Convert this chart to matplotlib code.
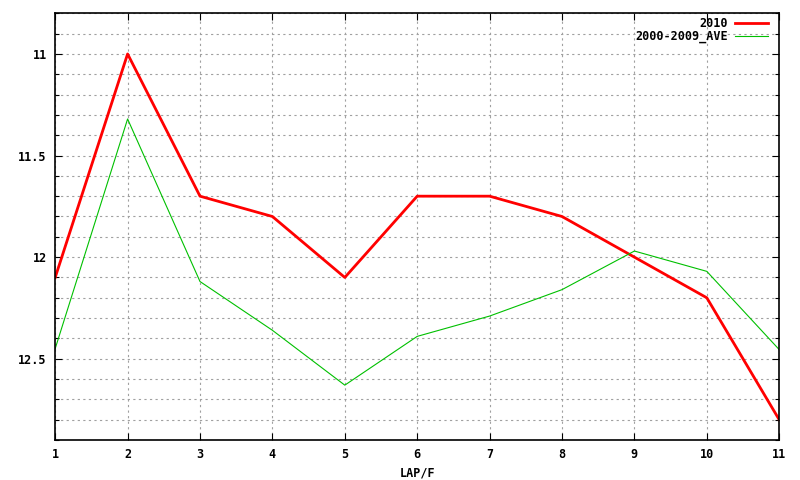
import matplotlib
matplotlib.use("Agg")
import matplotlib.pyplot as plt
import matplotlib.ticker as ticker

laps = [1, 2, 3, 4, 5, 6, 7, 8, 9, 10, 11]
y2010 = [12.1, 11.0, 11.7, 11.8, 12.1, 11.7, 11.7, 11.8, 12.0, 12.2, 12.8]
y_ave = [12.45, 11.32, 12.12, 12.36, 12.63, 12.39, 12.29, 12.16, 11.97, 12.07, 12.455]

plt.rcParams["font.family"] = ["DejaVu Sans Mono"]
plt.rcParams["font.weight"] = "bold"

fig = plt.figure(figsize=(8, 4.8), dpi=100)
ax = fig.add_axes([0.069, 0.0833, 0.905, 0.889])

ax.plot(laps, y2010, color="#ff0000", lw=2.0, label="2010")
ax.plot(laps, y_ave, color="#00c000", lw=0.8, label="2000-2009_AVE")

ax.set_xlim(1, 11)
ax.set_ylim(12.9, 10.8)

ax.xaxis.set_major_locator(ticker.MultipleLocator(1))
ax.yaxis.set_major_locator(ticker.FixedLocator([11, 11.5, 12, 12.5]))
ax.yaxis.set_major_formatter(ticker.FuncFormatter(lambda v, _: f"{v:g}"))
ax.yaxis.set_minor_locator(ticker.MultipleLocator(0.1))

ax.grid(True, which="major", color="#a0a0a0", ls=(0, (2, 3)), lw=0.8)
ax.grid(True, which="minor", axis="y", color="#a0a0a0", ls=(0, (2, 3)), lw=0.8)

ax.tick_params(which="both", direction="in", top=True, right=True,
               labelsize=8.5, length=5, width=0.8, pad=6)
ax.tick_params(which="minor", length=3)
for sp in ax.spines.values():
    sp.set_linewidth(1.2)

ax.set_xlabel("LAP/F", fontsize=8.5, fontweight="bold", labelpad=4)

ax.legend(loc="upper right", frameon=False, markerfirst=False, fontsize=8.5,
          handlelength=2.8, handletextpad=0.6, borderaxespad=0.0,
          borderpad=0.3, labelspacing=0.0, bbox_to_anchor=(0.99, 1.0))

fig.savefig("out.png", dpi=100)
